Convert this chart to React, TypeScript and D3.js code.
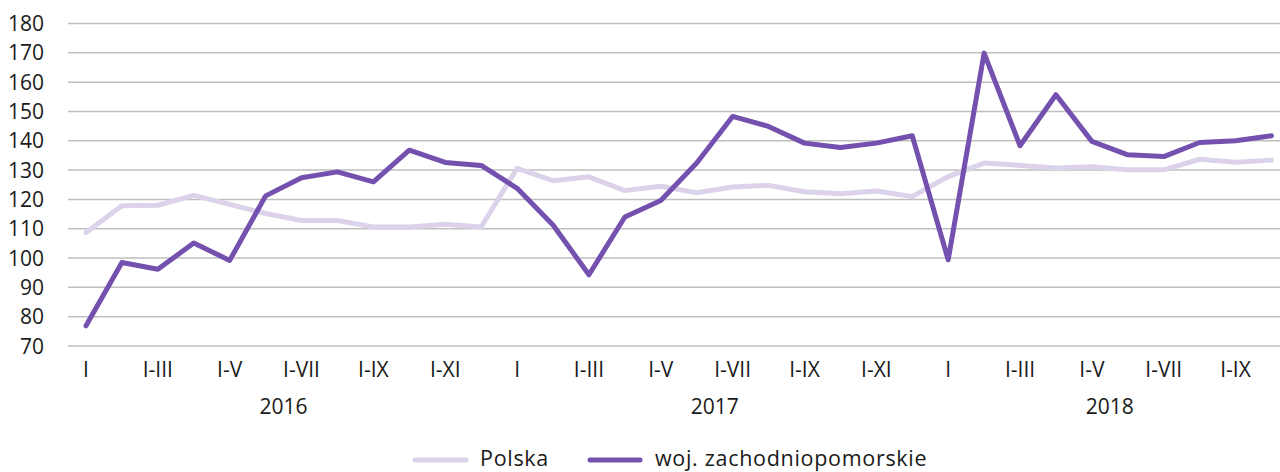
import React from "react";
import * as d3 from "d3";

const months = ["I", "II", "III", "IV", "V", "VI", "VII", "VIII", "IX", "X", "XI", "XII"];
const years = ["2016", "2017", "2018"];
const monthsPerYear = [12, 12, 10];
const tickLabels = ["I", "I-III", "I-V", "I-VII", "I-IX", "I-XI"];

const polska = [
  108.7, 117.8, 118.0, 121.4, 118.3, 115.2, 112.8, 112.8, 110.6, 110.6, 111.5, 110.6,
  130.6, 126.4, 127.7, 123.0, 124.5, 122.3, 124.2, 124.8, 122.6, 121.9, 122.9, 121.0,
  127.8, 132.4, 131.6, 130.7, 131.1, 130.1, 130.1, 133.7, 132.7, 133.4,
];
const zachodniopomorskie = [
  76.9, 98.5, 96.2, 105.1, 99.2, 121.2, 127.4, 129.4, 126.0, 136.8, 132.6, 131.6,
  123.8, 111.3, 94.3, 114.0, 119.6, 132.4, 148.3, 144.9, 139.2, 137.7, 139.2, 141.7,
  99.4, 169.9, 138.3, 155.7, 139.8, 135.2, 134.6, 139.4, 140.0, 141.7,
];
const yTicks = [70, 80, 90, 100, 110, 120, 130, 140, 150, 160, 170, 180];
const seriesNames = ["Polska", "woj. zachodniopomorskie"];

const W = 1280;
const H = 472;
const FONT = "'Open Sans', 'Noto Sans', sans-serif";

export default function App() {
  const n = polska.length;
  const x = d3.scaleLinear().domain([0, n - 1]).range([86, 1271.5]);
  const y = d3.scaleLinear().domain([70, 180]).range([346, 23.5]);
  const line = d3
    .line<number>()
    .x((_, i) => x(i))
    .y((d) => y(d));

  const ticks: { i: number; label: string }[] = [];
  let offset = 0;
  const yearLabels: { x: number; label: string }[] = [];
  years.forEach((yr, yi) => {
    const cnt = monthsPerYear[yi];
    for (let m = 0; m < cnt; m += 2) {
      ticks.push({ i: offset + m, label: tickLabels[m / 2] });
    }
    yearLabels.push({ x: (x(offset) + x(offset + cnt - 1)) / 2, label: yr });
    offset += cnt;
  });

  const colors = ["#DCD3EA", "#7451AE"];

  return (
    <svg
      width={W}
      height={H}
      style={{ position: "absolute", left: 0, top: 0, background: "#fff" }}
      fontFamily={FONT}
    >
      {yTicks.map((t) => (
        <g key={t}>
          <line x1={68} x2={W} y1={y(t)} y2={y(t)} stroke="#BFBFBF" strokeWidth={1.5} />
          <text x={44} y={y(t)} dy="0.36em" textAnchor="end" fontSize={21} fill="#1a1a1a">
            {t}
          </text>
        </g>
      ))}
      {ticks.map((t) => (
        <text key={t.i} x={x(t.i)} y={377} textAnchor="middle" fontSize={21} fill="#1a1a1a">
          {t.label}
        </text>
      ))}
      {yearLabels.map((yl) => (
        <text key={yl.label} x={yl.x} y={414} textAnchor="middle" fontSize={21} fill="#1a1a1a">
          {yl.label}
        </text>
      ))}
      <path d={line(polska) || ""} fill="none" stroke={colors[0]} strokeWidth={5} strokeLinejoin="round" strokeLinecap="round" />
      <path d={line(zachodniopomorskie) || ""} fill="none" stroke={colors[1]} strokeWidth={5} strokeLinejoin="round" strokeLinecap="round" />
      <g>
        <line x1={415} x2={466} y1={460} y2={460} stroke={colors[0]} strokeWidth={5} strokeLinecap="round" />
        <text x={480} y={466} fontSize={21.5} letterSpacing={0.7} fill="#1a1a1a">{seriesNames[0]}</text>
        <line x1={590} x2={640} y1={460} y2={460} stroke={colors[1]} strokeWidth={5} strokeLinecap="round" />
        <text x={655} y={466} fontSize={21.5} letterSpacing={0.7} fill="#1a1a1a">{seriesNames[1]}</text>
      </g>
    </svg>
  );
}
